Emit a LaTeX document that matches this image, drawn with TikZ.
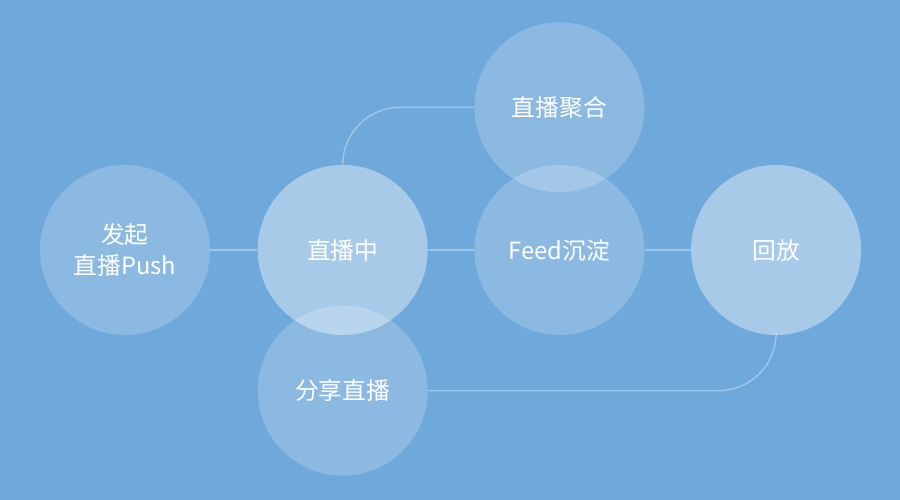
\documentclass[tikz,border=0pt]{standalone}
\usepackage{fontspec}
\setmainfont{Noto Sans CJK SC}
\usepackage{tikz}
\usetikzlibrary{positioning, backgrounds}

\definecolor{bgblue}{HTML}{6FA8DB}

\tikzset{
    bubble/.style={circle, fill=white, fill opacity=0.2, text opacity=1,
                   text=white, minimum size=3.4cm, inner sep=0pt, align=center,
                   font=\fontsize{13.5}{18}\selectfont},
    bubble light/.style={bubble, fill opacity=0.4},
    link/.style={draw=white, draw opacity=0.35, line width=0.8pt}
}

\begin{document}
\begin{tikzpicture}
    \useasboundingbox (0,0) rectangle (18,10);
    \node[bubble] (push) at (2.5,5) {发起\\直播Push};
    \node[bubble light, right=0.94cm of push] (live) {直播中};
    \node[bubble, right=0.92cm of live] (feed) {Feed沉淀};
    \node[bubble, above=-0.56cm of feed] (agg) {直播聚合};
    \node[bubble light, right=0.92cm of feed] (replay) {回放};
    \node[bubble, below=-0.6cm of live] (share) {分享直播};
    \begin{scope}[on background layer]
        \fill[bgblue] (0,0) rectangle (18,10);
        \draw[link] (push.east) -- (live.west);
        \draw[link] (live.east) -- (feed.west);
        \draw[link] (feed.east) -- (replay.west);
        \draw[link, rounded corners=1.15cm] (live.north) |- (agg.west);
        \draw[link, rounded corners=1.15cm] (replay.south) |- (share.east);
    \end{scope}
\end{tikzpicture}
\end{document}
